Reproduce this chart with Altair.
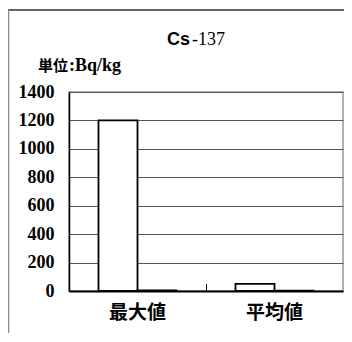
import altair as alt
import pandas as pd

categories = ["最大値", "平均値"]
series = ["系列1", "系列2"]
values_s1 = [1200, 50]
values_s2 = [5, 3]

rows = []
for c, a, b in zip(categories, values_s1, values_s2):
    rows.append({"cat": c, "series": series[0], "value": a})
    rows.append({"cat": c, "series": series[1], "value": b})
df = pd.DataFrame(rows)

W, H = 274, 199
serif = "Liberation Serif"
cjk = "Noto Sans CJK JP"

bars = alt.Chart(df).mark_bar(
    fill="white", stroke="black", strokeWidth=1.8
).encode(
    x=alt.X("cat:N", sort=categories, title=None,
            scale=alt.Scale(paddingInner=0, paddingOuter=0),
            axis=alt.Axis(labelAngle=0, labelFont=cjk, labelFontWeight="bold",
                          labelFontSize=19, labelColor="black", labelPadding=12,
                          ticks=False, domainColor="black", domainWidth=2)),
    xOffset=alt.XOffset("series:N", sort=series,
                        scale=alt.Scale(paddingInner=0, paddingOuter=0.756)),
    y=alt.Y("value:Q", title=None,
            scale=alt.Scale(domain=[0, 1400], nice=False),
            axis=alt.Axis(values=list(range(0, 1401, 200)), format="d",
                          labelFont=serif,
                          labelFontWeight="bold", labelFontSize=18,
                          labelColor="black", labelPadding=15, tickSize=0,
                          grid=True, gridColor="#555555", gridWidth=1,
                          domainColor="black", domainWidth=1.5)),
)

one = alt.Data(values=[{"a": 1}])

title_cs = alt.Chart(one).mark_text(
    text="Cs", font="Liberation Sans", fontWeight="bold", fontSize=18,
    align="right", baseline="alphabetic", color="black"
).encode(x=alt.value(121), y=alt.value(-47))

title_num = alt.Chart(one).mark_text(
    text="-137", font=serif, fontSize=18,
    align="left", baseline="alphabetic", color="black"
).encode(x=alt.value(123), y=alt.value(-47))

unit_cjk = alt.Chart(one).mark_text(
    text="単位", font=cjk, fontWeight="bold", fontSize=15,
    align="left", baseline="alphabetic", color="black"
).encode(x=alt.value(-31), y=alt.value(-21))

unit_lat = alt.Chart(one).mark_text(
    text=":Bq/kg", font=serif, fontWeight="bold", fontSize=18,
    align="left", baseline="alphabetic", color="black"
).encode(x=alt.value(0), y=alt.value(-21))

divider = alt.Chart(one).mark_rule(color="black", strokeWidth=1).encode(
    x=alt.value(137.5), y=alt.value(H - 7), y2=alt.value(H)
)

frame_top = alt.Chart(one).mark_rule(color="#333333", strokeWidth=1.5).encode(
    x=alt.value(-61), x2=alt.value(290), y=alt.value(-82)
)
frame_left = alt.Chart(one).mark_rule(color="#888888", strokeWidth=1.5).encode(
    x=alt.value(-60.5), y=alt.value(-82), y2=alt.value(260)
)

chart = alt.layer(
    bars, divider, title_cs, title_num, unit_cjk, unit_lat, frame_top, frame_left
).properties(
    width=W, height=H,
    autosize=alt.AutoSizeParams(type="none"),
    padding={"left": 61, "top": 84, "right": 1, "bottom": 42},
    background="white",
).configure_view(stroke="#999999", strokeWidth=1.5)

chart.save("out.html", embed_options={"renderer": "svg", "actions": False})
